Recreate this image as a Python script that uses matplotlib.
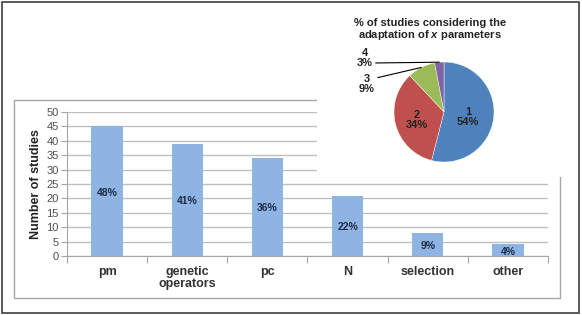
import matplotlib.pyplot as plt
from matplotlib.patches import Rectangle

plt.rcParams['font.family'] = ['Liberation Sans', 'DejaVu Sans']
plt.rcParams['mathtext.fontset'] = 'custom'
plt.rcParams['mathtext.bfit'] = 'Liberation Sans:italic:bold'
plt.rcParams['mathtext.it'] = 'Liberation Sans:italic:bold'

# bar chart data
categories = ['pm', 'genetic\noperators', 'pc', 'N', 'selection', 'other']
num_studies = [45, 39, 34, 21, 8, 4]
bar_pct = ['48%', '41%', '36%', '22%', '9%', '4%']

# pie chart data
pie_labels = ['1', '2', '3', '4']
pie_values = [54, 34, 9, 3]
pie_colors = ['#4F81BD', '#C0504D', '#9BBB59', '#8064A2']

W, H = 582, 315
fig = plt.figure(figsize=(W / 100, H / 100), dpi=100)
fig.patch.set_facecolor('white')


def px_rect(x0, y0, x1, y1):
    # pixel box (top-left origin) -> figure fraction [l, b, w, h]
    return [x0 / W, 1 - y1 / H, (x1 - x0) / W, (y1 - y0) / H]


def px(x, y):
    return x / W, 1 - y / H


# outer dark frame
fig.add_artist(Rectangle(px(1.5, 313), 577.5 / W, 311.5 / H, transform=fig.transFigure,
                         fill=False, edgecolor='#404040', linewidth=1.2))
# bar chart frame
fig.add_artist(Rectangle(px(14, 298), 546 / W, 198 / H, transform=fig.transFigure,
                         fill=False, edgecolor='#A6A6A6', linewidth=1.0))

# --- bar chart ---
ax = fig.add_axes(px_rect(67, 112, 548, 256))
x = range(len(categories))
ax.bar(x, num_studies, width=0.39, color='#8DB4E2', zorder=3)
ax.set_xlim(-0.5, len(categories) - 0.5)
ax.set_ylim(0, 50)
ax.set_yticks(range(0, 51, 5))
ax.yaxis.grid(True, color='#BFBFBF', linewidth=1.0, zorder=0)
ax.set_axisbelow(True)
for s in ['top', 'right']:
    ax.spines[s].set_visible(False)
ax.spines['left'].set_color('#A6A6A6')
ax.spines['bottom'].set_color('#A6A6A6')
ax.set_xticks([i + 0.5 for i in range(-1, len(categories))])
ax.set_xticklabels([])
ax.tick_params(axis='x', direction='out', length=5, color='#A6A6A6')
ax.tick_params(axis='y', direction='out', length=4, color='#A6A6A6', labelsize=8,
               labelcolor='#505050', pad=2)
for i, lab in enumerate(categories):
    ax.text(i, -3.4, lab, ha='center', va='top', fontsize=9, fontweight='bold',
            color='#333333', linespacing=1.0)
for i, (v, p) in enumerate(zip(num_studies, bar_pct)):
    ax.text(i, v / 2 - 0.5, p, ha='center', va='center', fontsize=7.5, fontweight='bold',
            color='#1F2A44', zorder=4)
ax.set_ylabel('Number of studies', fontsize=9, fontweight='bold', color='#222222', labelpad=3)

# white panel for pie chart
fig.add_artist(Rectangle(px(317, 177), 258 / W, 172 / H, transform=fig.transFigure,
                         facecolor='white', edgecolor='none', zorder=5))

# --- pie chart ---
r = 50
pax = fig.add_axes(px_rect(444 - 1.2 * r, 112 - 1.2 * r, 444 + 1.2 * r, 112 + 1.2 * r))
pax.set_zorder(6)
pax.pie(pie_values, colors=pie_colors, startangle=90, counterclock=False, radius=1,
        wedgeprops=dict(linewidth=0.3, edgecolor='white'))
pax.set_xlim(-1.2, 1.2)
pax.set_ylim(-1.2, 1.2)
pax.set_aspect('equal')
pax.axis('off')

inside = {'1': (0.48, -0.1), '2': (-0.54, -0.16)}
for lab, val in zip(pie_labels, pie_values):
    if lab in inside:
        xx, yy = inside[lab]
        pax.text(xx, yy, f'{lab}\n{val}%', ha='center', va='center', fontsize=8,
                 fontweight='bold', color='#222222', linespacing=1.1)

# outside labels with leader lines
pax.annotate(f'{pie_labels[3]}\n{pie_values[3]}%', xy=(-0.094, 0.996), xytext=(-1.58, 1.08),
             ha='center', va='center', fontsize=8, fontweight='bold', color='#222222',
             linespacing=1.0, annotation_clip=False,
             arrowprops=dict(arrowstyle='-', color='black', lw=0.8, shrinkA=0, shrinkB=0,
                             relpos=(1.0, 0.25)))
pax.annotate(f'{pie_labels[2]}\n{pie_values[2]}%', xy=(-0.454, 0.891), xytext=(-1.54, 0.56),
             ha='center', va='center', fontsize=8, fontweight='bold', color='#222222',
             linespacing=1.0, annotation_clip=False,
             arrowprops=dict(arrowstyle='-', color='black', lw=0.8, shrinkA=0, shrinkB=0,
                             relpos=(0.8, 0.75)))

fig.text(430 / W, 1 - 23 / H, '% of studies considering the', ha='center', va='center',
         fontsize=8, fontweight='bold', color='#222222', zorder=7)
fig.text(430 / W, 1 - 35.5 / H, r'adaptation of $\mathit{x}$ parameters', ha='center', va='center',
         fontsize=8, fontweight='bold', color='#222222', zorder=7)

fig.savefig('out.png', dpi=100)
